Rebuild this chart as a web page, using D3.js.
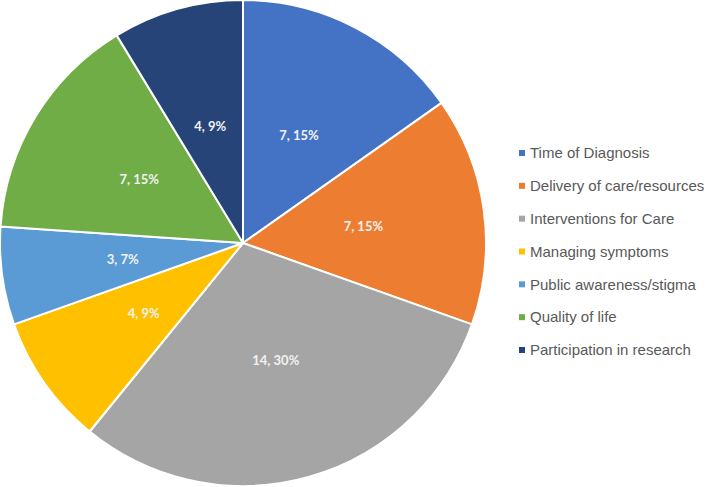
<!DOCTYPE html>
<html><head><meta charset="utf-8">
<script src="https://cdn.jsdelivr.net/npm/d3@7"></script>
<style>body{margin:0;background:#fff}svg{display:block}</style>
</head><body>
<svg id="c" width="707" height="487"></svg>
<script>
const categories = ["Time of Diagnosis","Delivery of care/resources","Interventions for Care","Managing symptoms","Public awareness/stigma","Quality of life","Participation in research"];
const values = [7,7,14,4,3,7,4];
const percents = ["15%","15%","30%","9%","7%","15%","9%"];
const colors = ["#4472C4","#ED7D31","#A5A5A5","#FFC000","#5B9BD5","#70AD47","#264478"];

const svg = d3.select("#c");
const cx = 243, cy = 243, r = 243;
const g = svg.append("g").attr("transform",`translate(${cx},${cy})`);
const pie = d3.pie().sort(null).value(d=>d);
const arcs = pie(values);
const arc = d3.arc().innerRadius(0).outerRadius(r);
g.selectAll("path").data(arcs).join("path")
  .attr("d",arc).attr("fill",(d,i)=>colors[i])
  .attr("stroke","#fff").attr("stroke-width",2).attr("stroke-linejoin","round");
g.selectAll("text").data(arcs).join("text")
  .attr("transform",d=>`translate(${arc.centroid(d)})`)
  .attr("text-anchor","middle").attr("dy","0.35em")
  .attr("fill","#f2f2f2").attr("font-family","Lato, 'Open Sans', sans-serif")
  .attr("font-weight","bold").attr("font-size",13)
  .text((d,i)=>`${values[i]}, ${percents[i]}`);

const leg = svg.append("g").attr("transform","translate(519,153)");
const y = d3.scalePoint().domain(categories).range([0,197]);
const items = leg.selectAll("g").data(categories).join("g")
  .attr("transform",d=>`translate(0,${y(d)})`);
items.append("rect").attr("x",0).attr("y",-3).attr("width",6).attr("height",6)
  .attr("fill",(d,i)=>colors[i]);
items.append("text").attr("x",11).attr("dy","0.35em")
  .attr("font-family","'Liberation Sans', Arial, sans-serif").attr("font-size",15)
  .attr("fill","#595959").text(d=>d);
</script>
</body></html>
